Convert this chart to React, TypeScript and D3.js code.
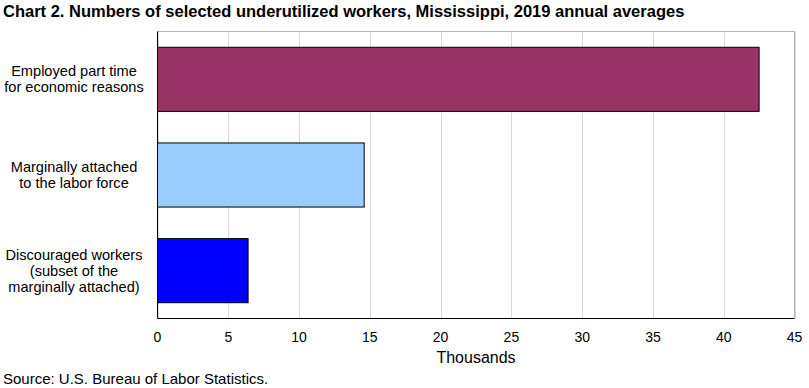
import React from "react";
import * as d3 from "d3";

const categories: string[][] = [
  ["Employed part time", "for economic reasons"],
  ["Marginally attached", "to the labor force"],
  ["Discouraged workers", "(subset of the", "marginally attached)"],
];
const values: number[] = [42.5, 14.6, 6.4];
const colors: string[] = ["#993366", "#99ccff", "#0000ff"];
const ticks: number[] = [0, 5, 10, 15, 20, 25, 30, 35, 40, 45];
const title = "Chart 2. Numbers of selected underutilized workers, Mississippi, 2019 annual averages";
const xTitle = "Thousands";
const source = "Source: U.S. Bureau of Labor Statistics.";

export default function App() {
  const W = 809, H = 388;
  const left = 157.5, right = 794.5, top = 31.5, bottom = 318.5;
  const x = d3.scaleLinear().domain([0, 45]).range([left, right]);
  const y = d3.scaleBand<number>().domain(values.map((_, i) => i)).range([top, bottom]).paddingInner(0.33).paddingOuter(0.165);
  const font = "Arial, 'Liberation Sans', sans-serif";
  return (
    <svg width={W} height={H} style={{ position: "absolute", left: 0, top: 0 }} fontFamily={font}>
      <rect x={0} y={0} width={W} height={H} fill="#fff" />
      <text x={3} y={17} fontSize={16.5} fontWeight="bold" fill="#000">{title}</text>
      {ticks.map((t) => (
        <line key={t} x1={Math.round(x(t)) + 0.5} x2={Math.round(x(t)) + 0.5} y1={top} y2={bottom} stroke="#d9d9d9" strokeWidth={1} />
      ))}
      <line x1={left} x2={right} y1={top} y2={top} stroke="#b3b3b3" />
      <line x1={right} x2={right} y1={top} y2={bottom} stroke="#b3b3b3" />
      {values.map((v, i) => (
        <rect key={i} x={x(0)} y={y(i)!} width={x(v) - x(0)} height={y.bandwidth()} fill={colors[i]} stroke="#000" strokeWidth={1} />
      ))}
      <line x1={left} x2={left} y1={top} y2={bottom} stroke="#000" />
      <line x1={left} x2={right} y1={bottom} y2={bottom} stroke="#000" />
      {ticks.map((t) => (
        <text key={t} x={x(t)} y={342} fontSize={14} textAnchor="middle" fill="#000">{t}</text>
      ))}
      <text x={476} y={363} fontSize={16} textAnchor="middle" fill="#000">{xTitle}</text>
      {categories.map((lines, i) => {
        const cy = y(i)! + y.bandwidth() / 2;
        const lh = 16;
        const start = cy - ((lines.length - 1) * lh) / 2;
        return (
          <text key={i} fontSize={14.6} textAnchor="middle" fill="#000">
            {lines.map((l, j) => (
              <tspan key={j} x={74} y={start + j * lh + 5}>{l}</tspan>
            ))}
          </text>
        );
      })}
      <text x={3} y={384} fontSize={15} fill="#000">{source}</text>
    </svg>
  );
}
